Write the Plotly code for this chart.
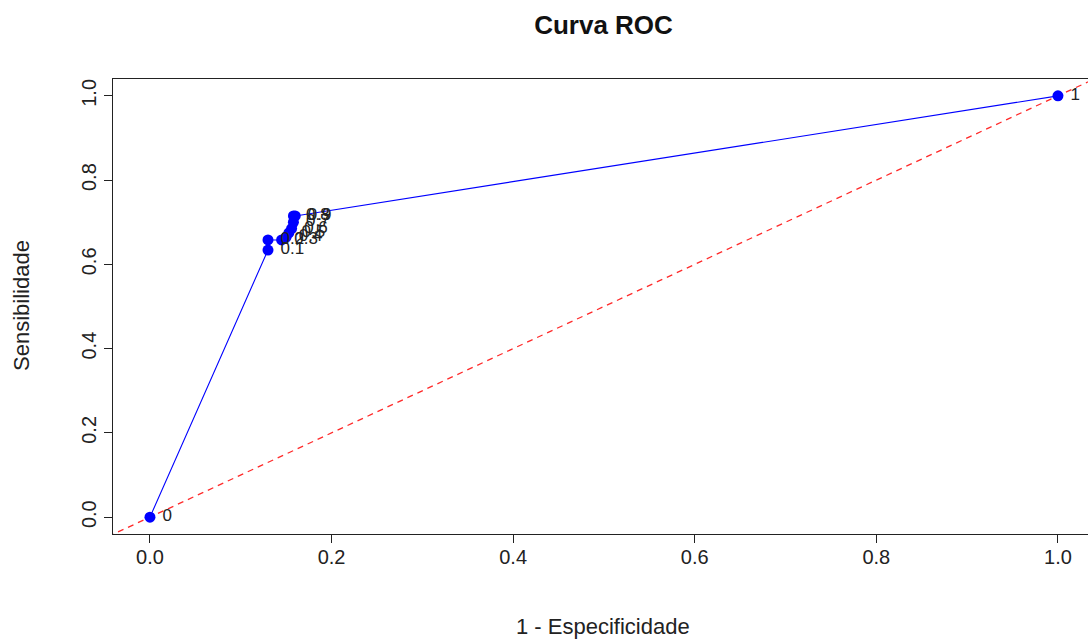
import plotly.graph_objects as go

thresholds = ["0", "0.1", "0.2", "0.3", "0.4", "0.5", "0.6", "0.7", "0.8", "0.9", "1"]
fpr = [0.0, 0.130, 0.130, 0.145, 0.150, 0.153, 0.156, 0.158, 0.158, 0.160, 1.0]
tpr = [0.0, 0.634, 0.658, 0.658, 0.665, 0.675, 0.685, 0.700, 0.715, 0.715, 1.0]
diag = [-0.2, 1.2]
xticks = [0.0, 0.2, 0.4, 0.6, 0.8, 1.0]
yticks = [0.0, 0.2, 0.4, 0.6, 0.8, 1.0]
tick_text = ["0.0", "0.2", "0.4", "0.6", "0.8", "1.0"]

font = "Liberation Sans, Arial, sans-serif"
W, H = 1088, 639

fig = go.Figure()
fig.add_trace(go.Scatter(x=diag, y=diag, mode="lines",
                         line=dict(color="#ff2a2a", width=1.3, dash="6px,5px"),
                         hoverinfo="skip", showlegend=False))
fig.add_trace(go.Scatter(x=fpr, y=tpr, mode="lines+markers+text",
                         line=dict(color="#0000ff", width=1.1),
                         marker=dict(color="#0000ff", size=11),
                         text=[" " + t for t in thresholds], textposition="middle right",
                         textfont=dict(family=font, size=17, color="#222222"),
                         showlegend=False))

axis_common = dict(showline=True, linecolor="#222222", linewidth=1, mirror=True,
                   ticks="outside", ticklen=8, tickcolor="#222222", tickwidth=1,
                   showgrid=False, zeroline=False, automargin=False,
                   tickfont=dict(family=font, size=20, color="#222222"))

fig.update_layout(
    width=W, height=H,
    margin=dict(l=113, r=0, t=79, b=105),
    plot_bgcolor="white", paper_bgcolor="white",
    title=dict(text="<b>Curva ROC</b>", x=(113 + 1094) / 2 / W, xanchor="center",
               y=1 - 25 / H, yanchor="middle",
               font=dict(family=font, size=26, color="#111111")),
    xaxis=dict(range=[-0.0407, 1.0331], tickvals=xticks, ticktext=tick_text,
               ticklabelstandoff=-3, **axis_common),
    yaxis=dict(range=[-0.040, 1.040], tickvals=yticks, ticktext=tick_text, tickangle=-90,
               ticklabelstandoff=0, **axis_common),
    annotations=[
        dict(text="1 - Especificidade", xref="paper", yref="paper",
             x=(603 - 113) / (W - 113), y=-(626 - 534) / (534 - 79),
             xanchor="center", yanchor="middle", showarrow=False,
             font=dict(family=font, size=22, color="#222222")),
        dict(text="Sensibilidade", xref="paper", yref="paper", textangle=-90,
             x=-(113 - 21) / (W - 113), y=(534 - 306) / (534 - 79),
             xanchor="center", yanchor="middle", showarrow=False,
             font=dict(family=font, size=22, color="#222222")),
    ],
)

fig.write_html("out.html")
